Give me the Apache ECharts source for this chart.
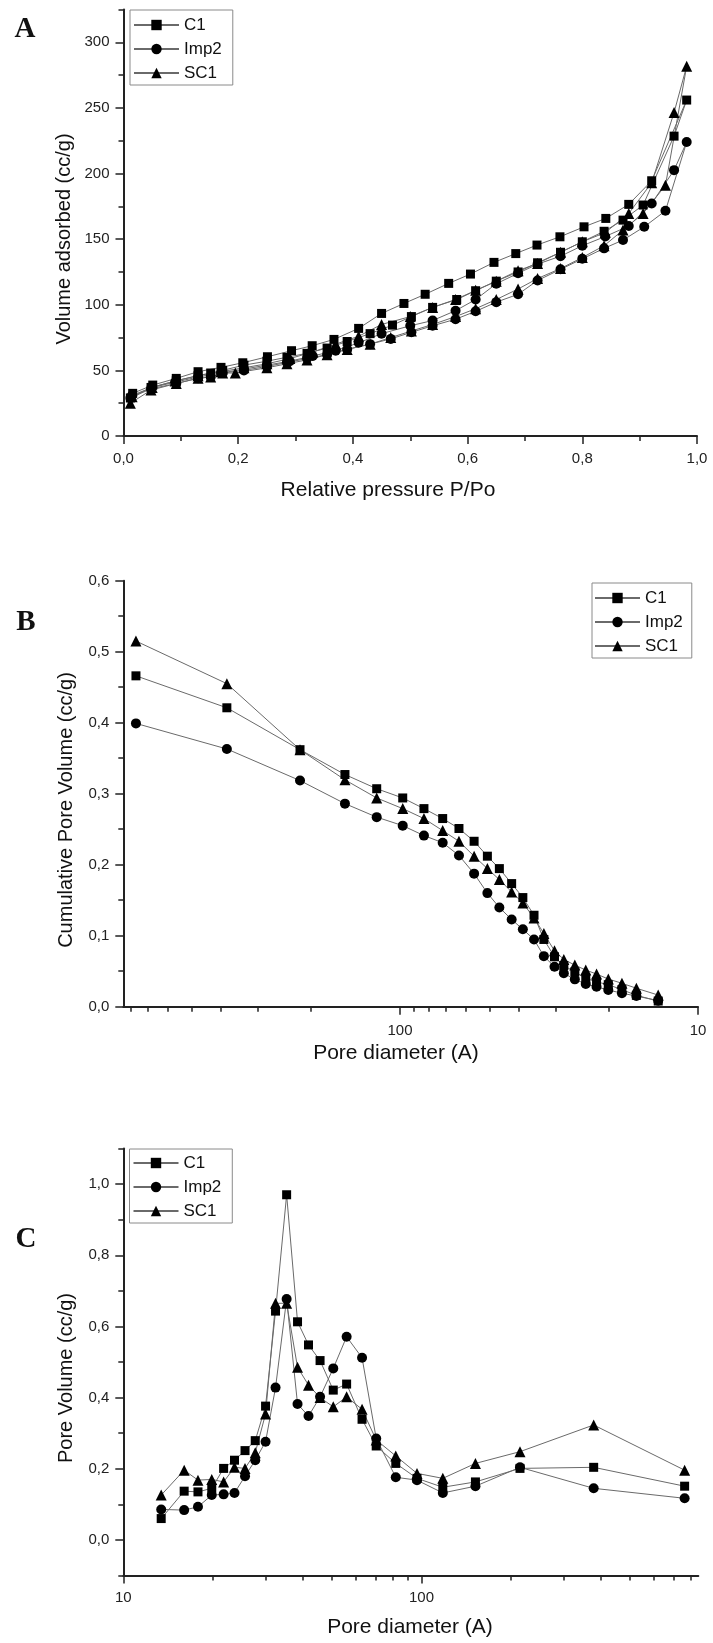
<!DOCTYPE html>
<html>
<head>
<meta charset="utf-8">
<script src="https://cdn.jsdelivr.net/npm/echarts@6/dist/echarts.min.js"></script>
<style>
html,body{margin:0;padding:0;background:#fff;}
#chart{width:713px;height:1643px;}
</style>
</head>
<body>
<div id="chart"></div>
<script>
// ---------- Panel A: N2 isotherms (adsorption then desorption) ----------
const A_C1_ads_x = [0.012,0.048,0.092,0.13,0.152,0.173,0.21,0.25,0.285,0.32,0.355,0.39,0.43,0.469,0.502,0.539,0.581,0.614,0.65,0.688,0.722,0.762,0.80,0.838,0.871,0.906,0.96,0.982];
const A_C1_ads_y = [29,37,42,46,48,50,54,57,60,63,67,72,78,84.5,91,98,104,110.7,118,125,132,140,148,156,164.5,176,228.5,256];
const A_C1_des_x = [0.921,0.881,0.841,0.803,0.761,0.721,0.684,0.646,0.605,0.567,0.526,0.489,0.45,0.41,0.367,0.329,0.293,0.251,0.208,0.17,0.13,0.092,0.051,0.016];
const A_C1_des_y = [194.5,176.5,165.8,159.4,151.8,145.5,139,132.3,123.4,116.3,108,101,93.4,82,73.6,68.8,65,60.4,55.8,52.3,49,43.9,38.8,32.5];

const A_Imp2_ads_x = [0.012,0.048,0.092,0.13,0.152,0.173,0.21,0.25,0.285,0.32,0.355,0.39,0.43,0.466,0.502,0.539,0.579,0.614,0.65,0.688,0.722,0.762,0.80,0.838,0.871,0.908,0.945,0.982];
const A_Imp2_ads_y = [29,36,40,44,45,48,50,53,56,59,62,66,70,74,79,84,89,95,102,108,118.5,127,135,143,149.3,159.4,171.6,224];
const A_Imp2_des_x = [0.96,0.921,0.881,0.84,0.80,0.762,0.722,0.688,0.65,0.614,0.579,0.539,0.50,0.45,0.41,0.37,0.33,0.29,0.25,0.21,0.17,0.13,0.09,0.05,0.015];
const A_Imp2_des_y = [202.6,177.2,160,152,145,137,131,124,116,104,95.5,88,84,78,71,65,61,57,54,51,48,45,41,37,31];

const A_SC1_ads_x = [0.012,0.048,0.092,0.13,0.152,0.173,0.195,0.25,0.285,0.32,0.355,0.39,0.43,0.466,0.502,0.539,0.579,0.614,0.65,0.688,0.722,0.762,0.80,0.838,0.871,0.906,0.945,0.982];
const A_SC1_ads_y = [25,35,40,44,45,48,48,52,55,58,62,66,70,75,80,85,91,97,104,112,120,127.6,136,145,156.9,169.5,191,281.8];
const A_SC1_des_x = [0.96,0.921,0.881,0.84,0.80,0.762,0.722,0.688,0.65,0.614,0.579,0.539,0.50,0.45,0.41,0.37,0.33,0.29,0.25,0.21,0.17,0.13,0.09,0.05,0.015];
const A_SC1_des_y = [246.5,193,169.6,155,148,140,131.5,126,118,111,104,98,91,85,76,70,64,59,55,52,49,46,42,37,30];

const A_xTicks = [0,0.2,0.4,0.6,0.8,1.0];
const A_xMinor = [0.1,0.3,0.5,0.7,0.9];
const A_yTicks = [0,50,100,150,200,250,300];
const A_yMinor = [25,75,125,175,225,275,325];

// ---------- Panel B: cumulative pore volume ----------
const B_x = [769,381,216.5,153,119.7,97.9,83.1,71.9,63.4,56.4,50.9,46.4,42.2,38.7,35.5,32.9,30.3,28.2,25.9,23.8,21.9,20.0,18.0,16.1,13.6];
const B_C1 = [0.466,0.421,0.362,0.327,0.307,0.294,0.279,0.265,0.251,0.233,0.212,0.1945,0.1734,0.1537,0.1288,0.0947,0.0703,0.058,0.049,0.040,0.035,0.031,0.024,0.016,0.008];
const B_Imp2 = [0.399,0.363,0.3185,0.286,0.267,0.255,0.241,0.231,0.213,0.1874,0.160,0.1397,0.1228,0.109,0.0947,0.0712,0.0562,0.047,0.0385,0.032,0.028,0.0235,0.019,0.015,0.0085];
const B_SC1 = [0.515,0.455,0.362,0.3195,0.294,0.279,0.265,0.248,0.233,0.212,0.1945,0.179,0.1616,0.146,0.125,0.103,0.0787,0.0666,0.0586,0.0516,0.046,0.039,0.033,0.026,0.0164];
const B_yTicks = [0,0.1,0.2,0.3,0.4,0.5,0.6];
const B_yMinor = [0.05,0.15,0.25,0.35,0.45,0.55];

// ---------- Panel C: pore size distribution ----------
const C_x = [13.4,16.0,17.8,19.8,21.7,23.6,25.6,27.7,30.0,32.4,35.3,38.4,41.8,45.7,50.6,56.1,63.2,70.5,82.0,96.6,117.9,151.7,214,378,763];
const C_C1 = [0.060,0.137,0.135,0.145,0.201,0.224,0.251,0.279,0.376,0.643,0.970,0.613,0.548,0.504,0.421,0.438,0.339,0.264,0.215,0.173,0.148,0.163,0.201,0.204,0.151];
const C_Imp2 = [0.0857,0.0838,0.093,0.126,0.128,0.132,0.179,0.224,0.276,0.428,0.677,0.382,0.348,0.402,0.482,0.571,0.512,0.285,0.176,0.168,0.132,0.151,0.204,0.145,0.117];
const C_SC1 = [0.126,0.196,0.168,0.170,0.163,0.204,0.201,0.245,0.354,0.665,0.665,0.485,0.435,0.40,0.374,0.402,0.367,0.281,0.236,0.187,0.173,0.215,0.248,0.323,0.196];
const C_yTicks = [0,0.2,0.4,0.6,0.8,1.0];
const C_yMinor = [-0.1,0.1,0.3,0.5,0.7,0.9,1.1];

const LOG_MAJOR = [10,100];
const LOG_MINOR = [20,30,40,50,60,70,80,90,200,300,400,500,600,700,800];

const seriesNames = ['C1','Imp2','SC1'];

// ---------- helpers ----------
const FONT = '"Liberation Sans", Arial, sans-serif';
const AX = '#222';
const zip = (xs, ys) => xs.map((x, i) => [x, ys[i]]);
const comma = d => v => Number(v).toFixed(d).replace('.', ',');

function mainAxis(o) {
  return Object.assign({
    axisLine: {show: true, onZero: false, lineStyle: {color: AX, width: 2}},
    axisTick: {show: true, inside: false, length: 8, lineStyle: {color: AX, width: 1.5}, customValues: o.ticks},
    axisLabel: {show: true, customValues: o.ticks, fontSize: 15, color: '#222', fontFamily: FONT, margin: o.margin, formatter: o.fmt},
    splitLine: {show: false}
  }, o.base);
}
function auxAxis(o) {
  return Object.assign({
    axisLine: {show: false, onZero: false},
    axisTick: {show: true, inside: false, length: 5, lineStyle: {color: AX, width: 1.5}, customValues: o.ticks},
    axisLabel: {show: false},
    splitLine: {show: false}
  }, o.base);
}

const gridA = {left: 123.5, top: 9.5, width: 573.5, height: 426.5};
const gridB = {left: 123.3, top: 580.7, width: 574.7, height: 426};
const gridC = {left: 123.3, top: 1148.5, width: 575, height: 427};
const g = r => Object.assign({containLabel: false, outerBoundsMode: 'none', show: false}, r);

const xA = {type: 'value', min: 0, max: 1};
const yA = {type: 'value', min: 0, max: 325};
const xB = {type: 'log', logBase: 10, min: 10, max: 848, inverse: true};
const yB = {type: 'value', min: 0, max: 0.6};
const xC = {type: 'log', logBase: 10, min: 10, max: 848};
const yC = {type: 'value', min: -0.1, max: 1.1};

const symbols = {C1: ['rect', 9], Imp2: ['circle', 10], SC1: ['triangle', 11]};
function ser(name, data, idx) {
  return {
    name: name, type: 'line', data: data,
    xAxisIndex: idx, yAxisIndex: idx,
    symbol: symbols[name][0], symbolSize: symbols[name][1],
    showSymbol: true, showAllSymbol: true,
    lineStyle: {color: '#6a6a6a', width: 1},
    itemStyle: {color: '#000', borderWidth: 0},
    emphasis: {disabled: true},
    animation: false
  };
}

function legend(left, top, padding) {
  return {
    show: true, orient: 'vertical', left: left, top: top,
    data: seriesNames, selectedMode: false,
    itemWidth: 45, itemHeight: 13, itemGap: 6,
    padding: padding,
    borderColor: '#8a8a8a', borderWidth: 1,
    textStyle: {fontSize: 17, lineHeight: 18, color: '#111', fontFamily: FONT}
  };
}

function txt(x, y, text, font, rot) {
  return {type: 'text', x: x, y: y, rotation: rot || 0,
    style: {text: text, font: font, fill: '#111', align: 'center', verticalAlign: 'middle'}};
}
const TITLE = '20px ' + FONT;
const XTITLE = '21px ' + FONT;
const LETTER = 'bold 29px "Liberation Serif", "Times New Roman", serif';

const option = {
  backgroundColor: '#fff',
  animation: false,
  grid: [g(gridA), g(gridB), g(gridC), g(gridA), g(gridB), g(gridC)],
  xAxis: [
    mainAxis({base: Object.assign({gridIndex: 0}, xA), ticks: A_xTicks, margin: 15, fmt: comma(1)}),
    mainAxis({base: Object.assign({gridIndex: 1}, xB), ticks: LOG_MAJOR, margin: 17, fmt: v => String(Math.round(v))}),
    mainAxis({base: Object.assign({gridIndex: 2}, xC), ticks: LOG_MAJOR, margin: 15, fmt: v => String(Math.round(v))}),
    auxAxis({base: Object.assign({gridIndex: 3}, xA), ticks: A_xMinor}),
    auxAxis({base: Object.assign({gridIndex: 4}, xB), ticks: LOG_MINOR}),
    auxAxis({base: Object.assign({gridIndex: 5}, xC), ticks: LOG_MINOR})
  ],
  yAxis: [
    mainAxis({base: Object.assign({gridIndex: 0}, yA), ticks: A_yTicks, margin: 14, fmt: v => String(v)}),
    mainAxis({base: Object.assign({gridIndex: 1}, yB), ticks: B_yTicks, margin: 14, fmt: comma(1)}),
    mainAxis({base: Object.assign({gridIndex: 2}, yC), ticks: C_yTicks, margin: 14, fmt: comma(1)}),
    auxAxis({base: Object.assign({gridIndex: 3}, yA), ticks: A_yMinor}),
    auxAxis({base: Object.assign({gridIndex: 4}, yB), ticks: B_yMinor}),
    auxAxis({base: Object.assign({gridIndex: 5}, yC), ticks: C_yMinor})
  ],
  legend: [
    legend(130, 10, [6, 11, 3, 3]),
    legend(592, 583, [6, 9, 3, 2]),
    legend(129.5, 1149, [5, 11, 3, 3])
  ],
  series: [
    ser('C1', zip(A_C1_ads_x, A_C1_ads_y).concat(zip(A_C1_des_x, A_C1_des_y)), 0),
    ser('Imp2', zip(A_Imp2_ads_x, A_Imp2_ads_y).concat(zip(A_Imp2_des_x, A_Imp2_des_y)), 0),
    ser('SC1', zip(A_SC1_ads_x, A_SC1_ads_y).concat(zip(A_SC1_des_x, A_SC1_des_y)), 0),
    ser('C1', zip(B_x, B_C1), 1),
    ser('Imp2', zip(B_x, B_Imp2), 1),
    ser('SC1', zip(B_x, B_SC1), 1),
    ser('C1', zip(C_x, C_C1), 2),
    ser('Imp2', zip(C_x, C_Imp2), 2),
    ser('SC1', zip(C_x, C_SC1), 2)
  ],
  graphic: [
    txt(25, 30, 'A', LETTER),
    txt(26, 623, 'B', LETTER),
    txt(26, 1240, 'C', LETTER),
    txt(64, 239, 'Volume adsorbed (cc/g)', TITLE, Math.PI / 2),
    txt(388, 490, 'Relative pressure P/Po', XTITLE),
    txt(66, 810, 'Cumulative Pore Volume (cc/g)', TITLE, Math.PI / 2),
    txt(396, 1053, 'Pore diameter (A)', XTITLE),
    txt(66, 1378, 'Pore Volume (cc/g)', TITLE, Math.PI / 2),
    txt(410, 1627, 'Pore diameter (A)', XTITLE)
  ]
};

const chart = echarts.init(document.getElementById('chart'), null, {renderer: 'canvas'});
chart.setOption(option);
</script>
</body>
</html>
